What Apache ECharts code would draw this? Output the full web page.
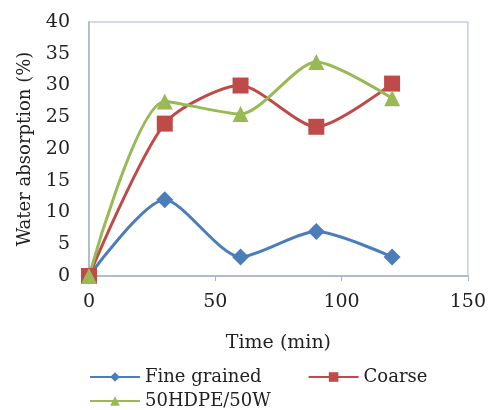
<!DOCTYPE html>
<html><head><meta charset="utf-8">
<script src="https://cdn.jsdelivr.net/npm/echarts@6/dist/echarts.min.js"></script>
<style>html,body{margin:0;padding:0;background:#fff}#c{width:489px;height:410px}</style>
</head><body><div id="c"></div>
<script>
const times = [0, 30, 60, 90, 120];
const fineGrained = [0, 12, 3, 7, 3];
const coarse = [0, 24, 30, 23.5, 30.3];
const hdpe = [0, 27.5, 25.5, 33.7, 28];
const xTicks = [0, 50, 100, 150];
const yTicks = [0, 5, 10, 15, 20, 25, 30, 35, 40];

const font = 'DejaVu Serif';
const pair = arr => times.map((t, i) => [t, arr[i]]);
const chart = echarts.init(document.getElementById('c'));
chart.setOption({
  animation: false,
  textStyle: { fontFamily: font, color: '#222' },
  grid: { left: 89, right: 21, top: 22, bottom: 134, show: true, borderColor: '#c5d0de', borderWidth: 1.5 },
  xAxis: {
    type: 'value', min: xTicks[0], max: xTicks[xTicks.length - 1], interval: 50,
    name: 'Time (min)', nameLocation: 'middle', nameGap: 58,
    nameTextStyle: { fontFamily: font, fontSize: 19, color: '#222' },
    axisLine: { lineStyle: { color: '#a8b4c4', width: 1.5 } },
    axisTick: { show: true, length: 5, lineStyle: { color: '#a8b4c4' } },
    axisLabel: { fontFamily: font, fontSize: 19, color: '#222', margin: 17 },
    splitLine: { show: false }
  },
  yAxis: {
    type: 'value', min: yTicks[0], max: yTicks[yTicks.length - 1], interval: 5,
    name: 'Water absorption (%)', nameLocation: 'middle', nameGap: 55,
    nameTextStyle: { fontFamily: font, fontSize: 18, color: '#222' },
    axisLine: { show: true, lineStyle: { color: '#a8b4c4', width: 1.5 } },
    axisTick: { show: false },
    axisLabel: { fontFamily: font, fontSize: 19, color: '#222', margin: 19 },
    splitLine: { show: false }
  },
  legend: [
    { data: ['Fine grained', 'Coarse'], left: 84, top: 363, itemWidth: 50, itemHeight: 12, itemGap: 46,
      textStyle: { fontFamily: font, fontSize: 18, color: '#222' } },
    { data: ['50HDPE/50W'], left: 84, top: 387, itemWidth: 50, itemHeight: 12,
      textStyle: { fontFamily: font, fontSize: 18, color: '#222' } }
  ],
  series: [
    { name: 'Fine grained', type: 'line', data: pair(fineGrained), smooth: 0.25,
      symbol: 'diamond', symbolSize: 17, color: '#4a7ebb', lineStyle: { width: 3 } },
    { name: 'Coarse', type: 'line', data: pair(coarse), smooth: 0.25,
      symbol: 'rect', symbolSize: 16, color: '#be4b48', lineStyle: { width: 3 } },
    { name: '50HDPE/50W', type: 'line', data: pair(hdpe), smooth: 0.25,
      symbol: 'triangle', symbolSize: 16, color: '#98b954', lineStyle: { width: 3 } }
  ]
});
</script></body></html>
